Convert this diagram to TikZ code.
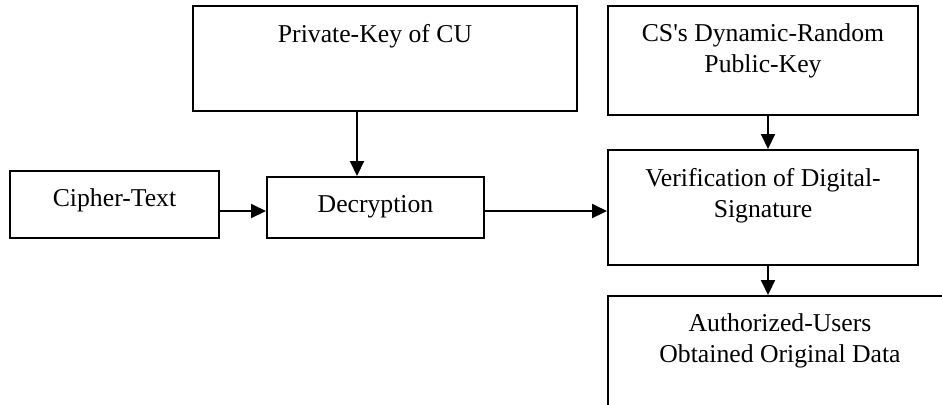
\documentclass[tikz,border=0pt]{standalone}
\usepackage{fontspec}
\setmainfont{Liberation Serif}
\usetikzlibrary{arrows.meta}

\tikzset{
  box/.style={draw, line width=1pt, inner sep=0pt},
  lbl/.style={anchor=north, inner ysep=9.3pt, inner xsep=0pt, align=center,
    font=\fontsize{12.85}{15.5}\selectfont},
  arr/.style={line width=1pt, -{Triangle[length=7.5pt,width=7pt]}}
}

\begin{document}
\begin{tikzpicture}[x=0.5pt, y=-0.5pt]
        \useasboundingbox (0,0) rectangle (942,404);
        \node[box, minimum width=192pt, minimum height=52.5pt,
          label={[lbl, xshift=-5pt]north:Private-Key of CU}] (priv) at (385, 58.5) {};
        \node[box, minimum width=155pt, minimum height=54.5pt,
          label={[lbl]north:{CS\textquotesingle s Dynamic-Random\\Public-Key}}] (cs) at (763, 60.5) {};
        \node[box, minimum width=104.5pt, minimum height=33.5pt,
          label={[lbl]north:Cipher-Text}] (cipher) at (114.5, 204.5) {};
        \node[box, minimum width=108.5pt, minimum height=30.5pt,
          label={[lbl]north:Decryption}] (dec) at (375.5, 207.5) {};
        \node[box, minimum width=155pt, minimum height=57.5pt,
          label={[lbl]north:{Verification of Digital-\\Signature}}] (verif) at (763, 207.5) {};
        \node[box, minimum width=172pt, minimum height=57pt,
          label={[lbl]north:{Authorized-Users\\Obtained Original Data}}] (auth) at (780, 353) {};
        \draw[arr] ([xshift=-9.25pt]dec.north |- priv.south) -- ([xshift=-9.25pt]dec.north);
        \draw[arr] ([yshift=-1.75pt]cipher.east |- dec.west) -- ([yshift=-1.75pt]dec.west);
        \draw[arr] ([yshift=-1.75pt]dec.east) -- ([yshift=-1.75pt]dec.east -| verif.west);
        \draw[arr] ([xshift=2.5pt]cs.south) -- ([xshift=2.5pt]cs.south |- verif.north);
        \draw[arr] ([xshift=2.5pt]verif.south) -- ([xshift=2.5pt]verif.south |- auth.north);
    \end{tikzpicture}
\end{document}
